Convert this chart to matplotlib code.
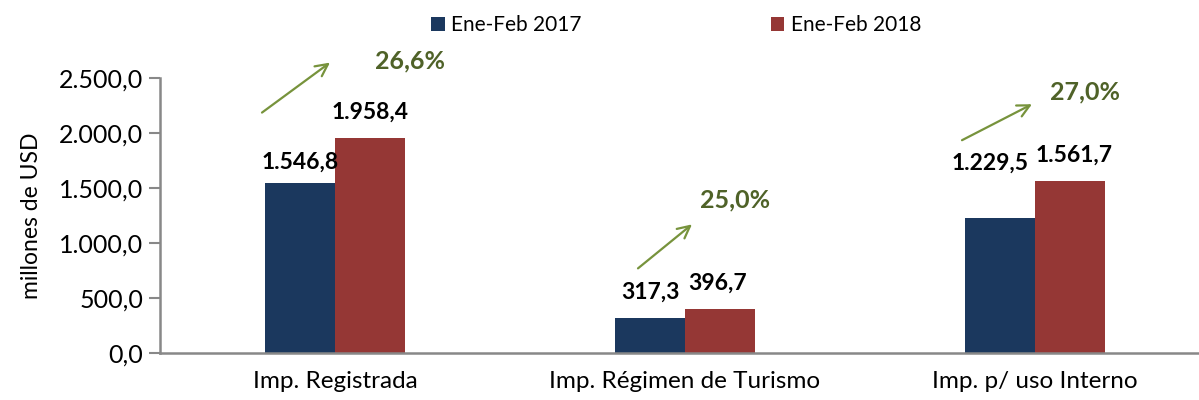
import matplotlib
matplotlib.use("Agg")
import matplotlib.pyplot as plt
import numpy as np

categories = ["Imp. Registrada", "Imp. Régimen de Turismo", "Imp. p/ uso Interno"]
series_names = ["Ene-Feb 2017", "Ene-Feb 2018"]
values_2017 = [1546.8, 317.3, 1229.5]
values_2018 = [1958.4, 396.7, 1561.7]
pct_labels = ["26,6%", "25,0%", "27,0%"]
yticks = [0, 500, 1000, 1500, 2000, 2500]

plt.rcParams['font.family'] = ['Lato', 'DejaVu Sans']

BLUE = "#1B385E"
RED = "#953735"
GREEN_TXT = "#4F6228"
GREEN_ARR = "#77933C"
GRAY = "#888888"

def fmt(v, dec=1):
    s = f"{v:,.{dec}f}"
    return s.replace(",", "X").replace(".", ",").replace("X", ".")

fig = plt.figure(figsize=(11.99, 4.0), dpi=100)
ax = fig.add_axes([160/1199, 47/400, 1050/1199, 275/400])

x = np.arange(len(categories))
w = 0.2
b1 = ax.bar(x - w/2, values_2017, w, color=BLUE, label=series_names[0], linewidth=0)
b2 = ax.bar(x + w/2, values_2018, w, color=RED, label=series_names[1], linewidth=0)

ax.set_xlim(-0.5, 2.5)
ax.set_ylim(0, 2500)
ax.set_yticks(yticks)
ax.set_yticklabels([fmt(v) for v in yticks], fontsize=18)
ax.set_xticks(x)
ax.set_xticklabels(categories, fontsize=17.5)
ax.tick_params(axis='x', length=0, pad=13)
ax.tick_params(axis='y', length=8, width=1.5, color=GRAY, pad=4)
for s in ["top", "right"]:
    ax.spines[s].set_visible(False)
for s in ["left", "bottom"]:
    ax.spines[s].set_color(GRAY)
    ax.spines[s].set_linewidth(1.8)
ax.set_ylabel("millones de USD", fontsize=16.5, labelpad=12)

# data labels (pixel offsets relative to bar tops)
offs17 = [(0, 21), (0, 26), (-10, 55)]
offs18 = [(0, 25), (-2, 26), (4, 26)]
for i in range(len(categories)):
    ax.annotate(fmt(values_2017[i]), (x[i] - w/2, values_2017[i]),
                xytext=offs17[i], textcoords='offset pixels',
                ha='center', va='center', fontsize=16.5, fontweight='bold', color='black')
    ax.annotate(fmt(values_2018[i]), (x[i] + w/2, values_2018[i]),
                xytext=offs18[i], textcoords='offset pixels',
                ha='center', va='center', fontsize=16.5, fontweight='bold', color='black')

# growth arrows and percentages (pixel offsets relative to 2018 bar tops)
arrow_start = [(-108, 25), (-82, 41), (-108, 41)]
arrow_end = [(-40, 75), (-28, 85), (-38, 77)]
pct_pos = [(40, 77), (15, 109), (15, 89)]
for i in range(len(categories)):
    base = (x[i] + w/2, values_2018[i])
    px0, py0 = ax.transData.transform(base)
    p_start = (px0 + arrow_start[i][0], py0 + arrow_start[i][1])
    p_end = (px0 + arrow_end[i][0], py0 + arrow_end[i][1])
    inv = ax.transData.inverted()
    ax.annotate("", xy=inv.transform(p_end), xytext=inv.transform(p_start),
                arrowprops=dict(arrowstyle='->', color=GREEN_ARR, lw=1.6,
                                mutation_scale=22, shrinkA=0, shrinkB=0),
                annotation_clip=False)
    ax.annotate(pct_labels[i], base, xytext=pct_pos[i], textcoords='offset pixels',
                ha='center', va='center', fontsize=18, fontweight='bold',
                color=GREEN_TXT, annotation_clip=False)

leg = fig.legend(handles=[b1, b2], labels=series_names, loc='center',
                 bbox_to_anchor=(676/1199, 1 - 25/400), ncol=2, frameon=False,
                 fontsize=15, handlelength=0.65, handleheight=0.65,
                 handletextpad=0.3, columnspacing=9.1)

fig.savefig("out.png", dpi=100)
